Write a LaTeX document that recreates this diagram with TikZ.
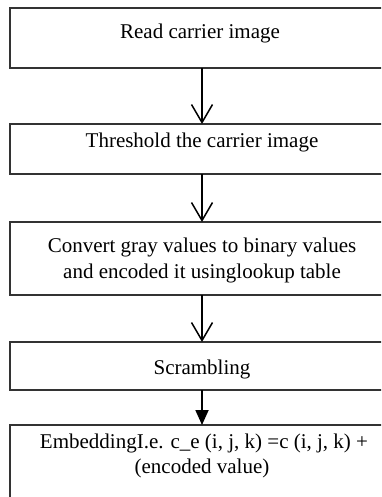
\documentclass[tikz,border=0pt]{standalone}
\usepackage{fontspec}
\setmainfont{Liberation Serif}
\usetikzlibrary{arrows.meta}
\begin{document}
\begin{tikzpicture}[x=1pt,y=-1pt,
  stagebox/.style={draw=black!80,line width=1.1pt},
  label/.style={anchor=base,inner sep=0pt,font=\fontsize{21}{25}\selectfont},
  openflow/.style={line width=1.5pt,-{Straight Barb[length=18pt,width=21pt,line width=1.5pt]}},
  solidflow/.style={line width=1.8pt,-{Triangle[length=15pt,width=13pt]}}]
\useasboundingbox (0,0) rectangle (381,497);
\clip (0,0) rectangle (381,497);
\fill[white] (0,0) rectangle (381,497);

% process stages
\coordinate (b1nw) at (10,8);   \coordinate (b1se) at (394,68);
\coordinate (b2nw) at (10,124); \coordinate (b2se) at (394,174);
\coordinate (b3nw) at (10,222); \coordinate (b3se) at (394,295);
\coordinate (b4nw) at (10,342); \coordinate (b4se) at (394,390);
\coordinate (b5nw) at (10,425); \coordinate (b5se) at (394,520);
\draw[stagebox] (b1nw) rectangle (b1se);
\draw[stagebox] (b2nw) rectangle (b2se);
\draw[stagebox] (b3nw) rectangle (b3se);
\draw[stagebox] (b4nw) rectangle (b4se);
\draw[stagebox] (b5nw) rectangle (b5se);

% connector ends on the box edges
\coordinate (b1s) at (202,68);  \coordinate (b2n) at (202,124);
\coordinate (b2s) at (202,174); \coordinate (b3n) at (202,222);
\coordinate (b3s) at (202,295); \coordinate (b4n) at (202,342);
\coordinate (b4s) at (202,390); \coordinate (b5n) at (202,425);

% stage texts
\node[label] (t1) at (200,38.5) {Read carrier image};
\node[label] (t2) at (202,148) {Threshold the carrier image};
\node[label] (t3a) at (202,252) {Convert gray values to binary values};
\node[label] (t3b) at (202,278) {and encoded it usinglookup table};
\node[label] (t4) at (202,374) {Scrambling};
\node[label] (t5a) at (204,448) {EmbeddingI.e. c\_e (i, j, k) =c (i, j, k) +};
\node[label] (t5b) at (202,473) {(encoded value)};

% flow
\draw[openflow] (b1s) -- (b2n);
\draw[openflow] (b2s) -- (b3n);
\draw[openflow] (b3s) -- (b4n);
\draw[solidflow] (b4s) -- (b5n);
\end{tikzpicture}
\end{document}
